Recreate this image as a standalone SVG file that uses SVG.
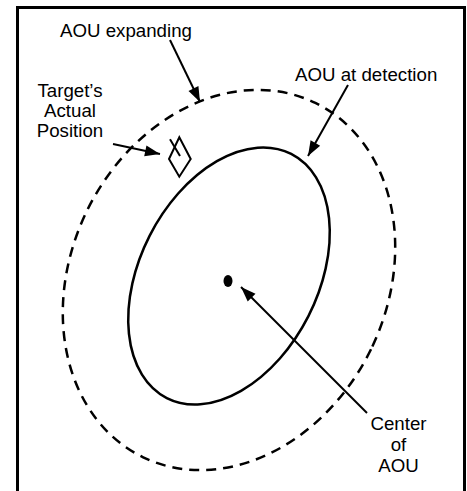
<svg xmlns="http://www.w3.org/2000/svg" width="467" height="491" viewBox="0 0 467 491">
<style>
.lbl{font-family:"Liberation Sans",Arial,sans-serif;font-size:18.7px;fill:#000}
.c{text-anchor:middle}
.conn{stroke:#000;stroke-width:2;fill:none;marker-end:url(#ah)}
</style>
<defs>
<marker id="ah" markerUnits="userSpaceOnUse" viewBox="0 -6 16 12" refX="15" refY="0" markerWidth="16" markerHeight="12" orient="auto" overflow="visible">
<path d="M0,-5.5 L15,0 L0,5.5 z" fill="#000"/>
</marker>
</defs>
<rect x="0" y="0" width="467" height="491" fill="#fff"/>
<g id="frame">
<rect x="17.5" y="7.5" width="447" height="500" fill="none" stroke="#000" stroke-width="3"/>
</g>
<g id="aou-expanding">
<ellipse cx="229" cy="280" rx="158" ry="197" transform="rotate(26 229 280)" fill="none" stroke="#000" stroke-width="2.5" stroke-dasharray="10 7"/>
</g>
<g id="aou-detection">
<ellipse cx="229" cy="276" rx="89" ry="137" transform="rotate(27 229 276)" fill="none" stroke="#000" stroke-width="2.5"/>
</g>
<g id="center">
<ellipse cx="228" cy="281" rx="4.5" ry="6" fill="#000"/>
</g>
<g id="target">
<path d="M179.3,137.3 L190.7,159 L179.3,176.7 L169,159 Z" fill="none" stroke="#000" stroke-width="2"/>
<path d="M170,139.3 L180,156" fill="none" stroke="#000" stroke-width="2"/>
</g>
<g id="connectors">
<line class="conn" x1="170" y1="40" x2="200" y2="102"/>
<line class="conn" x1="348" y1="85" x2="308" y2="156"/>
<line class="conn" x1="113" y1="144" x2="160" y2="154"/>
<line class="conn" x1="367" y1="413" x2="241" y2="287"/>
</g>
<g id="labels">
<text class="lbl" x="60" y="37">AOU expanding</text>
<text class="lbl" x="295" y="80.5">AOU at detection</text>
<text class="lbl c" x="70" y="97">Target’s</text>
<text class="lbl c" x="70" y="117">Actual</text>
<text class="lbl c" x="70" y="137">Position</text>
<text class="lbl c" x="398.5" y="430">Center</text>
<text class="lbl c" x="398.5" y="451">of</text>
<text class="lbl c" x="398.5" y="472">AOU</text>
</g>
</svg>
